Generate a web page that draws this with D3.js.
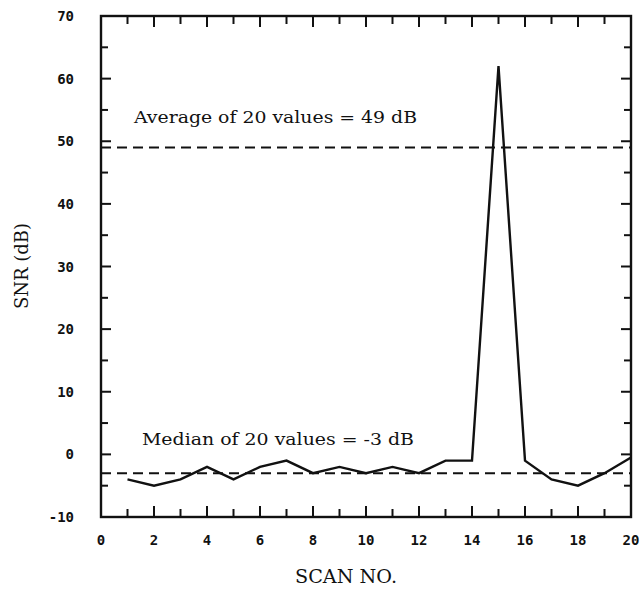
<!DOCTYPE html>
<html><head><meta charset="utf-8">
<script src="https://cdn.jsdelivr.net/npm/d3@7"></script>
<style>body{margin:0;background:#fff}</style>
</head><body>
<svg id="c" width="644" height="592"></svg>
<script>
const scans = [1,2,3,4,5,6,7,8,9,10,11,12,13,14,15,16,17,18,19,20];
const snr = [-4,-5,-4,-2,-4,-2,-1,-3,-2,-3,-2,-3,-1,-1,62,-1,-4,-5,-3,-0.5];
const xTicks = [0,2,4,6,8,10,12,14,16,18,20];
const yTicks = [-10,0,10,20,30,40,50,60,70];
const refLines = [{v:49, label:"Average of 20 values = 49 dB"},{v:-3, label:"Median of 20 values = -3 dB"}];

const L=101,R=631,T=16,B=517;
const x=d3.scaleLinear().domain([0,20]).range([L,R]);
const y=d3.scaleLinear().domain([-10,70]).range([B,T]);
const svg=d3.select("#c");
const ink="#111";
const serif="DejaVu Serif";

// frame
svg.append("rect").attr("x",L).attr("y",T).attr("width",R-L).attr("height",B-T)
 .attr("fill","none").attr("stroke",ink).attr("stroke-width",2.4);

const g=svg.append("g").attr("stroke",ink).attr("stroke-width",2);
d3.range(1,20).forEach(i=>{
  const len = i%2===0?11:8;
  g.append("line").attr("x1",x(i)).attr("x2",x(i)).attr("y1",B).attr("y2",B-len);
  g.append("line").attr("x1",x(i)).attr("x2",x(i)).attr("y1",T).attr("y2",T+len);
});
d3.range(-5,70,5).forEach(v=>{
  const len = v%10===0?10:7;
  g.append("line").attr("y1",y(v)).attr("y2",y(v)).attr("x1",L).attr("x2",L+len);
  g.append("line").attr("y1",y(v)).attr("y2",y(v)).attr("x1",R).attr("x2",R-len);
});

// tick labels
svg.selectAll(".xt").data(xTicks).join("text")
 .attr("x",d=>x(d)).attr("y",545).attr("text-anchor","middle")
 .attr("font-family","DejaVu Sans Mono").attr("font-weight","bold").attr("font-size",14)
 .attr("fill",ink).text(d=>d);
svg.selectAll(".yt").data(yTicks).join("text")
 .attr("x",74).attr("y",d=>y(d)+5).attr("text-anchor","end")
 .attr("font-family","DejaVu Sans Mono").attr("font-weight","bold").attr("font-size",14)
 .attr("fill",ink).text(d=>d);

// axis titles
svg.append("text").attr("x",295).attr("y",583)
 .attr("font-family",serif).attr("font-size",18).attr("fill",ink)
 .attr("textLength",102).attr("lengthAdjust","spacingAndGlyphs").text("SCAN NO.");
svg.append("text").attr("transform","translate(28,266) rotate(-90)").attr("text-anchor","middle")
 .attr("font-family",serif).attr("font-size",18).attr("fill",ink).text("SNR (dB)");

// reference lines
refLines.forEach(r=>{
  svg.append("line").attr("x1",L).attr("x2",R).attr("y1",y(r.v)).attr("y2",y(r.v))
   .attr("stroke",ink).attr("stroke-width",2).attr("stroke-dasharray","10,6");
});
svg.append("text").attr("x",134).attr("y",123).attr("font-family",serif)
 .attr("font-size",17).attr("fill",ink)
 .attr("textLength",283).attr("lengthAdjust","spacingAndGlyphs").text(refLines[0].label);
svg.append("text").attr("x",142).attr("y",445).attr("font-family",serif)
 .attr("font-size",17).attr("fill",ink)
 .attr("textLength",272).attr("lengthAdjust","spacingAndGlyphs").text(refLines[1].label);

// data line
const line=d3.line().x((d,i)=>x(scans[i])).y(d=>y(d));
svg.append("path").datum(snr).attr("d",line).attr("fill","none")
 .attr("stroke",ink).attr("stroke-width",2.4).attr("stroke-linejoin","miter");
</script>
</body></html>
